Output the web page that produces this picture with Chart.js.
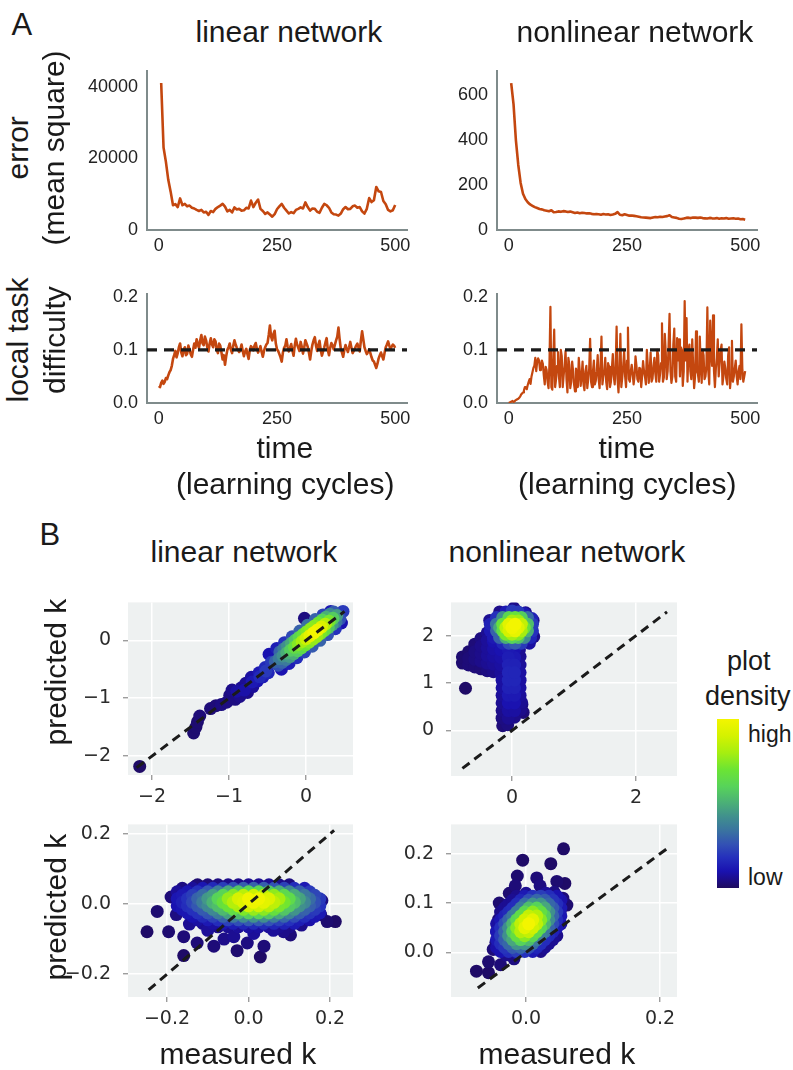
<!DOCTYPE html>
<html><head><meta charset="utf-8">
<script src="https://cdn.jsdelivr.net/npm/chart.js@4.4.1/dist/chart.umd.min.js"></script>
<style>
body{margin:0;background:#fff;width:793px;height:1070px;position:relative;overflow:hidden;font-family:"Liberation Sans",Arial,sans-serif;color:#1a1a1a}
canvas{position:absolute}
.t{position:absolute;white-space:nowrap;line-height:1}
</style></head><body>
<script>
// ================= DATA =================
// Panel A: learning curves (time in learning cycles)
const errStep = 5;            // error series sampled every 5 cycles, starting at cycle 5
const linearError = [41000,23000,19000,14000,10700,6900,7200,6400,8800,6900,
 7300,6600,6800,6200,6000,5600,5300,5600,4900,5100,
 4200,5300,5000,5900,6400,6800,7300,6500,5200,5600,
 4900,6300,5700,5900,5400,5500,6200,6000,8200,6400,
 7600,8500,5900,5300,4500,4900,4300,3700,4400,5800,
 6600,7300,6200,5400,4600,5000,4700,5600,5900,6300,
 6000,7700,6400,5400,6000,5900,5100,4800,6200,7300,
 6900,6200,4900,4400,4300,4000,4600,5800,6400,5800,
 5900,6600,6800,6200,6400,5200,4600,5900,8900,7800,
 8300,12000,10800,10600,8100,7200,5600,5200,5500,7000];
const nonlinearError = [655,560,400,290,210,162,138,124,114,108,
 102,98,94,92,88,86,84,88,79,80,
 83,81,84,83,80,82,79,76,78,75,
 77,76,74,75,72,70,71,70,68,71,
 69,70,67,69,72,80,68,66,70,67,
 64,65,63,61,59,57,56,55,54,53,
 56,58,57,59,58,60,62,66,58,56,
 54,50,49,51,54,55,53,56,55,54,
 56,53,52,51,54,52,51,53,50,52,
 51,53,50,51,52,50,51,48,49,46];
const linDiffStep = 2.5;      // starting at cycle 0
const linearDifficulty = [.032,.03,.038,.042,.036,.04,.047,.045,.052,.058,
 .062,.07,.083,.09,.098,.086,.094,.105,.112,.095,
 .088,.1,.105,.09,.093,.108,.101,.092,.087,.1,
 .112,.104,.12,.11,.104,.118,.128,.112,.109,.125,
 .118,.105,.097,.112,.122,.11,.105,.12,.116,.1,
 .094,.112,.108,.095,.082,.09,.072,.088,.1,.105,
 .112,.1,.094,.108,.118,.11,.104,.1,.096,.1,
 .11,.098,.088,.097,.102,.092,.083,.1,.107,.104,
 .099,.108,.113,.102,.095,.1,.107,.096,.087,.098,
 .105,.11,.113,.128,.146,.125,.118,.13,.136,.112,
 .101,.098,.092,.086,.078,.095,.104,.108,.12,.106,
 .097,.104,.111,.1,.089,.108,.121,.11,.104,.098,
 .115,.106,.093,.104,.118,.112,.106,.095,.082,.098,
 .11,.118,.124,.108,.098,.11,.117,.1,.089,.097,
 .105,.114,.122,.1,.09,.104,.113,.108,.101,.11,
 .118,.125,.142,.12,.102,.095,.087,.1,.109,.102,
 .096,.105,.115,.104,.094,.098,.103,.108,.112,.104,
 .097,.118,.135,.12,.105,.098,.092,.096,.101,.094,
 .086,.08,.078,.072,.066,.074,.084,.09,.095,.088,
 .082,.094,.105,.11,.116,.108,.102,.106,.11,.108,
 .104];
const nonDiffStep = 2;        // starting at cycle 0
const nonlinearDifficulty = [.0,.001,.002,.003,.004,.002,.003,.005,.006,.007,
 .008,.01,.012,.016,.018,.02,.024,.03,.03,.026,
 .034,.04,.045,.036,.05,.058,.066,.07,.085,.06,
 .078,.084,.08,.062,.07,.08,.074,.052,.035,.068,
 .062,.04,.028,.075,.181,.03,.025,.082,.138,.03,
 .045,.07,.096,.05,.03,.1,.088,.03,.052,.07,
 .098,.045,.02,.085,.072,.028,.04,.078,.06,.035,
 .022,.065,.055,.03,.085,.06,.032,.05,.078,.035,
 .024,.06,.07,.028,.045,.065,.121,.04,.03,.06,
 .08,.035,.042,.06,.09,.045,.028,.07,.125,.035,
 .05,.06,.085,.04,.026,.075,.068,.03,.04,.065,
 .092,.05,.035,.07,.144,.045,.02,.06,.13,.03,
 .048,.07,.098,.05,.03,.08,.142,.045,.04,.06,
 .072,.055,.035,.05,.088,.07,.045,.04,.066,.065,
 .03,.05,.079,.06,.05,.035,.1,.07,.038,.06,
 .095,.04,.046,.07,.085,.055,.04,.1,.09,.04,
 .055,.075,.15,.04,.048,.13,.095,.045,.06,.11,
 .168,.06,.038,.05,.11,.14,.05,.04,.122,.08,
 .12,.05,.105,.1,.032,.06,.192,.08,.16,.04,
 .098,.11,.06,.045,.12,.07,.028,.05,.135,.06,
 .055,.04,.125,.07,.038,.1,.09,.045,.05,.07,
 .18,.06,.035,.155,.095,.07,.165,.06,.03,.065,
 .085,.12,.05,.075,.1,.11,.035,.05,.078,.065,
 .045,.035,.09,.105,.028,.05,.117,.04,.05,.065,
 .08,.05,.035,.06,.07,.045,.148,.065,.04,.05,
 .06];
const targetDifficulty = 0.1;
const timeTicks = [0,250,500];
const linErrTicks = [0,20000,40000], linErrLabels = ['0','20000','40000'];
const nonErrTicks = [0,200,400,600], nonErrLabels = ['0','200','400','600'];
const diffTicks = [0,0.1,0.2], diffLabels = ['0.0','0.1','0.2'];

// Panel B: [measured k, predicted k, plot density 0..1]
const linTopPts = [[-2.16,-2.18,0.01],[-1.46,-1.6,0.02],[-1.43,-1.5,0.02],[-1.41,-1.41,0.02],[-1.38,-1.31,0.03],
 [-1.24,-1.18,0.03],[-1.17,-1.13,0.03],[-1.1,-1.11,0.04],[-1.03,-1.07,0.04],[-0.99,-0.95,0.04],[-0.96,-0.86,0.05],
 [-0.92,-1.02,0.04],[-0.86,-0.97,0.05],[-0.84,-0.82,0.06],[-0.78,-0.74,0.06],[-0.76,-0.9,0.05],[-0.71,-0.64,0.08],
 [-0.69,-0.8,0.07],[-0.63,-0.7,0.1],[-0.61,-0.56,0.12],[-0.56,-0.63,0.12],[-0.53,-0.47,0.16],[-0.49,-0.56,0.15],[-0.45,-0.38,0.2],
 [-0.9,-0.88,0.08],[-0.8,-0.86,0.09],[-0.7,-0.72,0.12],[-0.6,-0.63,0.16],[-0.52,-0.53,0.2],
 [-0.4,-0.37,0.3],[-0.3,-0.27,0.42],[-0.2,-0.17,0.58],[-0.1,-0.07,0.74],[0.0,0.03,0.88],[0.1,0.13,1.0],[0.2,0.23,0.92],[0.3,0.33,0.72],[0.4,0.43,0.45],[0.48,0.5,0.2],
 [-0.05,-0.02,0.8],[0.05,0.08,0.95],[0.15,0.18,0.98],[0.25,0.28,0.83],[-0.15,-0.12,0.66],[0.35,0.38,0.58],[-0.25,-0.22,0.5],[-0.35,-0.32,0.36],
 [-0.34,-0.2,0.3],[-0.24,-0.1,0.42],[-0.14,0.0,0.55],[-0.04,0.1,0.68],[0.06,0.2,0.76],[0.16,0.3,0.7],[0.26,0.4,0.5],[0.36,0.49,0.28],
 [-0.29,-0.15,0.36],[-0.19,-0.05,0.48],[-0.09,0.05,0.62],[0.01,0.15,0.73],[0.11,0.25,0.74],[0.21,0.35,0.6],[0.31,0.45,0.4],
 [-0.36,-0.43,0.25],[-0.26,-0.33,0.36],[-0.16,-0.23,0.5],[-0.06,-0.13,0.64],[0.04,-0.03,0.74],[0.14,0.07,0.78],[0.24,0.17,0.66],[0.34,0.27,0.45],[0.44,0.37,0.25],
 [-0.31,-0.38,0.3],[-0.21,-0.28,0.44],[-0.11,-0.18,0.58],[-0.01,-0.08,0.7],[0.09,0.02,0.77],[0.19,0.12,0.72],[0.29,0.22,0.56],[0.39,0.32,0.35],
 [-0.48,-0.24,0.1],[-0.38,-0.14,0.13],[-0.28,-0.04,0.18],[-0.18,0.06,0.24],[-0.08,0.16,0.3],[0.02,0.26,0.33],[0.12,0.36,0.3],[0.22,0.44,0.22],[0.32,0.5,0.12],[-0.02,0.38,0.04],
 [-0.32,-0.5,0.1],[-0.22,-0.4,0.13],[-0.12,-0.3,0.17],[-0.02,-0.2,0.22],[0.08,-0.1,0.28],[0.18,0.0,0.3],[0.28,0.1,0.26],[0.38,0.2,0.18],[0.46,0.3,0.1]];
const nonTopPts = [[-0.75,0.89,0.01],
 [-0.8,1.42,0.02],[-0.8,1.55,0.02],[-0.7,1.38,0.03],[-0.7,1.52,0.03],[-0.7,1.66,0.02],[-0.6,1.34,0.03],[-0.6,1.5,0.04],[-0.6,1.66,0.04],[-0.6,1.82,0.03],
 [-0.5,1.3,0.03],[-0.5,1.46,0.05],[-0.5,1.62,0.05],[-0.5,1.78,0.05],[-0.5,1.94,0.04],[-0.4,1.26,0.04],[-0.4,1.42,0.06],[-0.4,1.58,0.07],[-0.4,1.74,0.07],
 [-0.4,1.9,0.07],[-0.4,2.06,0.06],[-0.3,1.24,0.05],[-0.3,1.4,0.07],[-0.3,1.56,0.08],[-0.3,1.72,0.09],[-0.3,1.88,0.1],
 [-0.15,0.1,0.03],[-0.07,0.12,0.04],[-0.16,0.26,0.04],[-0.06,0.26,0.06],[0.04,0.28,0.05],
 [-0.16,0.42,0.05],[-0.06,0.42,0.08],[0.04,0.42,0.08],[0.14,0.44,0.05],[-0.16,0.58,0.06],[-0.06,0.58,0.1],[0.04,0.58,0.1],[0.15,0.6,0.06],
 [-0.16,0.74,0.07],[-0.06,0.74,0.12],[0.04,0.74,0.12],[0.13,0.74,0.07],[-0.16,0.9,0.08],[-0.06,0.9,0.14],[0.04,0.9,0.14],[0.13,0.9,0.08],
 [-0.16,1.06,0.08],[-0.06,1.06,0.15],[0.04,1.06,0.15],[0.13,1.06,0.08],[-0.18,1.22,0.07],[-0.06,1.22,0.15],[0.04,1.22,0.15],[0.13,1.22,0.08],
 [-0.18,1.38,0.08],[-0.06,1.38,0.14],[0.04,1.38,0.14],[0.13,1.38,0.07],[-0.18,1.54,0.09],[-0.06,1.54,0.13],[0.04,1.54,0.12],[0.13,1.56,0.06],
 [-0.18,1.7,0.1],[-0.06,1.7,0.12],[0.04,1.7,0.1],[0.12,1.7,0.06],[0.18,0.38,0.03],[0.16,0.55,0.04],
 [-0.1,2.5,0.12],[0.0,2.52,0.2],[0.1,2.5,0.2],[0.2,2.46,0.12],
 [-0.25,2.38,0.18],[-0.15,2.38,0.42],[-0.05,2.38,0.62],[0.05,2.38,0.68],[0.15,2.38,0.58],[0.25,2.38,0.32],[0.32,2.36,0.14],
 [-0.35,2.24,0.14],[-0.25,2.24,0.34],[-0.15,2.24,0.68],[-0.05,2.24,0.94],[0.05,2.24,1.0],[0.15,2.24,0.86],[0.25,2.24,0.54],[0.33,2.24,0.2],
 [-0.35,2.1,0.12],[-0.25,2.1,0.3],[-0.15,2.1,0.64],[-0.05,2.1,0.9],[0.05,2.1,0.96],[0.15,2.1,0.8],[0.25,2.1,0.5],[0.33,2.1,0.18],
 [-0.3,1.96,0.12],[-0.2,1.96,0.3],[-0.1,1.96,0.5],[0.0,1.96,0.6],[0.1,1.96,0.55],[0.2,1.96,0.4],[0.3,1.96,0.15],
 [-0.15,1.84,0.15],[-0.05,1.84,0.24],[0.05,1.84,0.28],[0.15,1.84,0.2],[0.28,1.84,0.08],
 [0.0,2.31,0.8],[0.1,2.31,0.78],[-0.1,2.17,0.84],[0.0,2.17,0.99],[0.1,2.17,0.93],[0.2,2.17,0.68],[-0.2,2.17,0.48],[0.0,2.03,0.8],[0.1,2.03,0.74],[-0.1,2.03,0.72],
 [0.03,2.58,0.05],[0.22,2.48,0.06],[0.34,2.32,0.05],[0.35,1.98,0.05],[-0.2,2.5,0.05],[-0.36,2.32,0.06]];
const linBotPts = [
 [-0.125,0.055,0.02],[-0.1,0.055,0.03],[-0.075,0.055,0.04],[-0.05,0.055,0.05],[-0.025,0.055,0.05],[0,0.055,0.06],[0.025,0.055,0.06],[0.05,0.055,0.06],[0.075,0.055,0.05],[0.1,0.055,0.04],
 [-0.1625,0.045,0.04],[-0.1375,0.045,0.07],[-0.1125,0.045,0.11],[-0.0875,0.045,0.16],[-0.0625,0.045,0.21],[-0.0375,0.045,0.25],[-0.0125,0.045,0.29],[0.0125,0.045,0.3],[0.0375,0.045,0.29],[0.0625,0.045,0.26],[0.0875,0.045,0.22],[0.1125,0.045,0.17],[0.1375,0.045,0.12],
 [-0.175,0.035,0.07],[-0.15,0.035,0.11],[-0.125,0.035,0.18],[-0.1,0.035,0.27],[-0.075,0.035,0.37],[-0.05,0.035,0.48],[-0.025,0.035,0.56],[0,0.035,0.61],[0.025,0.035,0.62],[0.05,0.035,0.57],[0.075,0.035,0.5],[0.1,0.035,0.4],[0.125,0.035,0.29],[0.15,0.035,0.2],
 [-0.1625,0.025,0.12],[-0.1375,0.025,0.21],[-0.1125,0.025,0.32],[-0.0875,0.025,0.46],[-0.0625,0.025,0.61],[-0.0375,0.025,0.74],[-0.0125,0.025,0.84],[0.0125,0.025,0.88],[0.0375,0.025,0.85],[0.0625,0.025,0.76],[0.0875,0.025,0.63],[0.1125,0.025,0.49],[0.1375,0.025,0.35],[0.1625,0.025,0.23],
 [-0.175,0.015,0.11],[-0.15,0.015,0.18],[-0.125,0.015,0.3],[-0.1,0.015,0.44],[-0.075,0.015,0.6],[-0.05,0.015,0.77],[-0.025,0.015,0.91],[0,0.015,0.99],[0.025,0.015,0.99],[0.05,0.015,0.93],[0.075,0.015,0.8],[0.1,0.015,0.64],[0.125,0.015,0.47],[0.15,0.015,0.32],[0.175,0.015,0.2],
 [-0.1625,0.005,0.14],[-0.1375,0.005,0.23],[-0.1125,0.005,0.36],[-0.0875,0.005,0.51],[-0.0625,0.005,0.67],[-0.0375,0.005,0.83],[-0.0125,0.005,0.93],[0.0125,0.005,0.98],[0.0375,0.005,0.95],[0.0625,0.005,0.85],[0.0875,0.005,0.71],[0.1125,0.005,0.54],[0.1375,0.005,0.39],[0.1625,0.005,0.25],
 [-0.175,-0.005,0.1],[-0.15,-0.005,0.17],[-0.125,-0.005,0.27],[-0.1,-0.005,0.4],[-0.075,-0.005,0.54],[-0.05,-0.005,0.69],[-0.025,-0.005,0.81],[0,-0.005,0.89],[0.025,-0.005,0.89],[0.05,-0.005,0.83],[0.075,-0.005,0.72],[0.1,-0.005,0.57],[0.125,-0.005,0.42],[0.15,-0.005,0.29],[0.175,-0.005,0.18],
 [-0.1625,-0.015,0.11],[-0.1375,-0.015,0.18],[-0.1125,-0.015,0.28],[-0.0875,-0.015,0.4],[-0.0625,-0.015,0.53],[-0.0375,-0.015,0.65],[-0.0125,-0.015,0.73],[0.0125,-0.015,0.77],[0.0375,-0.015,0.75],[0.0625,-0.015,0.67],[0.0875,-0.015,0.56],[0.1125,-0.015,0.43],[0.1375,-0.015,0.3],[0.1625,-0.015,0.2],
 [-0.15,-0.025,0.11],[-0.125,-0.025,0.18],[-0.1,-0.025,0.26],[-0.075,-0.025,0.36],[-0.05,-0.025,0.46],[-0.025,-0.025,0.54],[0,-0.025,0.59],[0.025,-0.025,0.6],[0.05,-0.025,0.56],[0.075,-0.025,0.48],[0.1,-0.025,0.38],[0.125,-0.025,0.28],[0.15,-0.025,0.19],[0.175,-0.025,0.12],
 [-0.1375,-0.035,0.1],[-0.1125,-0.035,0.16],[-0.0875,-0.035,0.22],[-0.0625,-0.035,0.3],[-0.0375,-0.035,0.36],[-0.0125,-0.035,0.41],[0.0125,-0.035,0.43],[0.0375,-0.035,0.42],[0.0625,-0.035,0.37],[0.0875,-0.035,0.31],[0.1125,-0.035,0.24],[0.1375,-0.035,0.17],[0.1625,-0.035,0.11],
 [-0.125,-0.045,0.08],[-0.1,-0.045,0.12],[-0.075,-0.045,0.17],[-0.05,-0.045,0.22],[-0.025,-0.045,0.25],[0,-0.045,0.28],[0.025,-0.045,0.28],[0.05,-0.045,0.26],[0.075,-0.045,0.22],[0.1,-0.045,0.18],[0.125,-0.045,0.13],[0.15,-0.045,0.09],
 [-0.1125,-0.055,0.06],[-0.0875,-0.055,0.08],[-0.0625,-0.055,0.11],[-0.0375,-0.055,0.13],[-0.0125,-0.055,0.15],[0.0125,-0.055,0.16],[0.0375,-0.055,0.16],[0.0625,-0.055,0.15],[0.0875,-0.055,0.14],[0.1125,-0.055,0.12],
 [-0.1,-0.065,0.04],[-0.075,-0.065,0.05],[-0.05,-0.065,0.06],[-0.025,-0.065,0.07],[0,-0.065,0.08],[0.025,-0.065,0.08],[0.05,-0.065,0.07],[0.075,-0.065,0.06],[0.1,-0.065,0.05],
 [-0.249,-0.079,0.01],[-0.224,-0.021,0.02],[-0.196,-0.079,0.02],[-0.159,-0.093,0.03],[-0.159,-0.147,0.01],[-0.126,-0.111,0.03],[-0.085,-0.12,0.03],[-0.028,-0.133,0.02],
 [0.029,-0.151,0.01],[0.038,-0.12,0.03],[0.103,-0.088,0.03],[0.086,-0.079,0.05],[0.16,-0.021,0.05],[0.193,-0.05,0.02],[0.213,-0.05,0.01],[0.177,-0.03,0.03],
 [0.152,0.015,0.08],[-0.13,0.051,0.03],[-0.16,0.006,0.05],[-0.177,-0.03,0.04],[-0.145,-0.057,0.06],[-0.1,-0.075,0.07],[-0.036,-0.093,0.06],[0.013,-0.084,0.07],
 [0.061,-0.075,0.07],[-0.003,-0.111,0.04],[-0.19,0.02,0.03],[0.18,0.01,0.04],[-0.06,-0.1,0.05],[0.13,-0.06,0.05]];
const nonBotPts = [
 [-0.038,0.002,0.1],[-0.026,0.002,0.17],[-0.014,0.002,0.21],[-0.002,0.002,0.18],[0.01,0.002,0.12],[0.022,0.002,0.05],
 [-0.044,0.01,0.09],[-0.032,0.01,0.19],[-0.02,0.01,0.28],[-0.008,0.01,0.31],[0.004,0.01,0.25],[0.016,0.01,0.15],[0.028,0.01,0.06],
 [-0.038,0.018,0.17],[-0.026,0.018,0.31],[-0.014,0.018,0.43],[-0.002,0.018,0.43],[0.01,0.018,0.32],[0.022,0.018,0.17],[0.034,0.018,0.06],
 [-0.044,0.026,0.12],[-0.032,0.026,0.28],[-0.02,0.026,0.48],[-0.008,0.026,0.6],[0.004,0.026,0.54],[0.016,0.026,0.36],[0.028,0.026,0.17],[0.04,0.026,0.06],
 [-0.038,0.034,0.2],[-0.026,0.034,0.42],[-0.014,0.034,0.66],[-0.002,0.034,0.75],[0.01,0.034,0.62],[0.022,0.034,0.37],[0.034,0.034,0.16],[0.046,0.034,0.05],
 [-0.044,0.042,0.11],[-0.032,0.042,0.3],[-0.02,0.042,0.58],[-0.008,0.042,0.83],[0.004,0.042,0.86],[0.016,0.042,0.65],[0.028,0.042,0.35],[0.04,0.042,0.14],
 [-0.038,0.05,0.17],[-0.026,0.05,0.41],[-0.014,0.05,0.74],[-0.002,0.05,0.95],[0.01,0.05,0.89],[0.022,0.05,0.61],[0.034,0.05,0.3],[0.046,0.05,0.11],
 [-0.044,0.058,0.08],[-0.032,0.058,0.24],[-0.02,0.058,0.52],[-0.008,0.058,0.85],[0.004,0.058,1.0],[0.016,0.058,0.85],[0.028,0.058,0.52],[0.04,0.058,0.24],[0.052,0.058,0.08],
 [-0.038,0.066,0.11],[-0.026,0.066,0.3],[-0.014,0.066,0.61],[-0.002,0.066,0.89],[0.01,0.066,0.95],[0.022,0.066,0.74],[0.034,0.066,0.41],[0.046,0.066,0.17],
 [-0.032,0.074,0.14],[-0.02,0.074,0.35],[-0.008,0.074,0.65],[0.004,0.074,0.86],[0.016,0.074,0.83],[0.028,0.074,0.58],[0.04,0.074,0.3],[0.052,0.074,0.11],
 [-0.038,0.082,0.05],[-0.026,0.082,0.16],[-0.014,0.082,0.37],[-0.002,0.082,0.62],[0.01,0.082,0.75],[0.022,0.082,0.66],[0.034,0.082,0.42],[0.046,0.082,0.2],
 [-0.032,0.09,0.06],[-0.02,0.09,0.17],[-0.008,0.09,0.36],[0.004,0.09,0.54],[0.016,0.09,0.6],[0.028,0.09,0.48],[0.04,0.09,0.28],[0.052,0.09,0.12],
 [-0.026,0.098,0.06],[-0.014,0.098,0.17],[-0.002,0.098,0.32],[0.01,0.098,0.43],[0.022,0.098,0.43],[0.034,0.098,0.31],[0.046,0.098,0.17],
 [-0.02,0.106,0.06],[-0.008,0.106,0.15],[0.004,0.106,0.25],[0.016,0.106,0.31],[0.028,0.106,0.28],[0.04,0.106,0.19],[0.052,0.106,0.09],
 [-0.014,0.114,0.05],[-0.002,0.114,0.12],[0.01,0.114,0.18],[0.022,0.114,0.21],[0.034,0.114,0.17],[0.046,0.114,0.1],
 [0.056,0.21,0.01],[-0.005,0.187,0.01],[0.037,0.18,0.01],[-0.013,0.155,0.02],[0.016,0.151,0.03],[-0.016,0.135,0.03],[0.021,0.135,0.04],
 [0.046,0.144,0.02],[0.058,0.14,0.01],[0.042,0.122,0.04],[0.061,0.096,0.02],[0.051,0.083,0.05],[-0.029,0.096,0.03],[-0.041,0.067,0.03],
 [-0.044,0.042,0.04],[-0.049,0.006,0.03],[-0.056,-0.019,0.02],[-0.074,-0.038,0.01],[-0.056,-0.041,0.01],[-0.038,-0.025,0.03],[-0.018,-0.013,0.04],
 [0.001,0.006,0.06],[0.031,0.038,0.06],[0.05,0.06,0.06],[0.055,0.11,0.03],[-0.04,0.1,0.02],[-0.025,0.12,0.02],[0.0,0.12,0.06],[0.03,0.12,0.07],
 [-0.045,0.02,0.04],[-0.03,-0.005,0.05],[-0.015,0.0,0.08],[0.015,0.015,0.06]];
const linTopX = [-2,-1,0], linTopXL = ['\u22122','\u22121','0'];
const linTopY = [-2,-1,0], linTopYL = ['\u22122','\u22121','0'];
const nonTopX = [0,2], nonTopXL = ['0','2'];
const nonTopY = [0,1,2], nonTopYL = ['0','1','2'];
const linBotX = [-0.2,0,0.2], linBotXL = ['\u22120.2','0.0','0.2'];
const linBotY = [-0.2,0,0.2], linBotYL = ['\u22120.2','0.0','0.2'];
const nonBotX = [0,0.2], nonBotXL = ['0.0','0.2'];
const nonBotY = [0,0.1,0.2], nonBotYL = ['0.0','0.1','0.2'];
// identity (y = x) reference segments [start, end]
const linTopDiag = [-2.2,0.5], nonTopDiag = [-0.8,2.5], linBotDiag = [-0.245,0.21], nonBotDiag = [-0.072,0.21];

// ================= STYLE / HELPERS =================
const stops = [[0,'#1f0b5e'],[0.05,'#1d0d8a'],[0.1,'#1a12b0'],[0.18,'#2530bc'],[0.26,'#3352b4'],[0.34,'#3a73a0'],[0.42,'#408f8e'],[0.5,'#4aae78'],[0.6,'#57d35a'],[0.7,'#6be434'],[0.8,'#a6ee10'],[0.9,'#d4f200'],[1,'#f3f500']];
function hex(c){return [parseInt(c.slice(1,3),16),parseInt(c.slice(3,5),16),parseInt(c.slice(5,7),16)];}
function densityColor(d){d=Math.max(0,Math.min(1,d));for(let i=1;i<stops.length;i++){if(d<=stops[i][0]){const p0=stops[i-1][0],p1=stops[i][0];const a=hex(stops[i-1][1]),b=hex(stops[i][1]);const f=(d-p0)/(p1-p0);return 'rgb('+a.map((v,k)=>Math.round(v+(b[k]-v)*f)).join(',')+')';}}return stops[stops.length-1][1];}

function txt(s,x,y,size,opts){opts=opts||{};const d=document.createElement('div');d.className='t';d.textContent=s;d.style.fontSize=size+'px';document.body.appendChild(d);const w=d.offsetWidth;
 if(opts.rotate){d.style.left='0px';d.style.top='0px';d.style.transformOrigin='0 0';d.style.transform='translate('+x+'px,'+y+'px) rotate(-90deg) translate('+(-w/2)+'px,'+(-0.8465*size)+'px)';}
 else{const ax=opts.left?0:w/2;d.style.left=(x-ax)+'px';d.style.top=(y-0.8465*size)+'px';}}

function mkCanvas(area,m){const c=document.createElement('canvas');const w=area[2]-area[0]+m[0]+m[2],h=area[3]-area[1]+m[1]+m[3];c.width=w;c.height=h;
 Object.assign(c.style,{left:(area[0]-m[0])+'px',top:(area[1]-m[1])+'px',width:w+'px',height:h+'px'});document.body.appendChild(c);return c;}

const A_M=[100,16,22,40];
const fontA={family:"'Liberation Sans', Arial, sans-serif",size:18};
function timeChart(area,series,step,start,yMin,yMax,yTicks,yLabels,lw,refY){
 const c=mkCanvas(area,A_M);const ds=[];
 if(refY!==undefined)ds.push({data:[{x:-25,y:refY},{x:525,y:refY}],borderColor:'#1b1b1b',borderWidth:3.2,borderDash:[10,7],pointRadius:0});
 ds.push({data:series.map((v,i)=>({x:start+i*step,y:v})),borderColor:'#c4470f',borderWidth:lw,pointRadius:0,borderJoinStyle:'round'});
 new Chart(c,{type:'line',data:{datasets:ds},options:{responsive:false,animation:false,devicePixelRatio:1,events:[],
  layout:{padding:{left:0,top:A_M[1],right:A_M[2],bottom:0}},
  plugins:{legend:{display:false},tooltip:{enabled:false}},
  scales:{
   x:{type:'linear',min:-25,max:525,afterBuildTicks:s=>{s.ticks=timeTicks.map(v=>({value:v}));},afterFit:s=>{s.height=A_M[3];},
      ticks:{font:fontA,color:'#222',padding:5,maxRotation:0,autoSkip:false,callback:v=>String(v)},
      grid:{display:false,drawTicks:false},border:{display:true,color:'#7f8b8b',width:2}},
   y:{type:'linear',min:yMin,max:yMax,afterBuildTicks:s=>{s.ticks=yTicks.map(v=>({value:v}));},afterFit:s=>{s.width=A_M[0];},
      ticks:{font:fontA,color:'#222',padding:9,autoSkip:false,callback:(v,i)=>yLabels[i]},
      grid:{display:false,drawTicks:false},border:{display:true,color:'#7f8b8b',width:2}}
  }}});
}

const B_M=[70,14,14,50];
const fontB={family:"'DejaVu Sans', sans-serif",size:19};
const bgPlugin={id:'plotBg',beforeDraw(ch){const a=ch.chartArea,x=ch.ctx;x.save();x.fillStyle='#eef1f1';x.fillRect(a.left,a.top,a.right-a.left,a.bottom-a.top);x.restore();}};
function scatterChart(area,pts,xr,yr,xT,xL,yT,yL,diag){
 const c=mkCanvas(area,B_M);
 const sorted=pts.slice().sort((a,b)=>a[2]-b[2]);
 const cols=sorted.map(p=>densityColor(p[2]));
 const gridB={color:'#ffffff',lineWidth:1.5,tickColor:'#8c8c8c',tickLength:5,tickWidth:1.2};
 new Chart(c,{type:'scatter',data:{datasets:[
   {type:'line',data:[{x:diag[0],y:diag[0]},{x:diag[1],y:diag[1]}],borderColor:'#1b1b1b',borderWidth:3,borderDash:[9,6],pointRadius:0,showLine:true},
   {type:'scatter',data:sorted.map(p=>({x:p[0],y:p[1]})),pointRadius:6.5,pointHoverRadius:6.5,pointBorderWidth:0,borderWidth:0,
    pointBackgroundColor:ctx=>cols[ctx.dataIndex],backgroundColor:ctx=>cols[ctx.dataIndex]}
  ]},options:{responsive:false,animation:false,devicePixelRatio:1,events:[],
  layout:{padding:{left:0,top:B_M[1],right:B_M[2],bottom:0}},
  plugins:{legend:{display:false},tooltip:{enabled:false}},
  scales:{
   x:{type:'linear',min:xr[0],max:xr[1],afterBuildTicks:s=>{s.ticks=xT.map(v=>({value:v}));},afterFit:s=>{s.height=B_M[3];},
      ticks:{font:fontB,color:'#2b2b2b',padding:6,maxRotation:0,autoSkip:false,callback:(v,i)=>xL[i]},grid:gridB,border:{display:false}},
   y:{type:'linear',min:yr[0],max:yr[1],afterBuildTicks:s=>{s.ticks=yT.map(v=>({value:v}));},afterFit:s=>{s.width=B_M[0];},
      ticks:{font:fontB,color:'#2b2b2b',padding:12,autoSkip:false,callback:(v,i)=>yL[i]},grid:gridB,border:{display:false}}
  }},plugins:[bgPlugin]});
}

// ================= BUILD =================
timeChart([147,67,407,230],linearError,errStep,errStep,0,44400,linErrTicks,linErrLabels,2.6);
timeChart([497,67,757,230],nonlinearError,errStep,errStep,0,710,nonErrTicks,nonErrLabels,2.6);
timeChart([147,290,407,403],linearDifficulty,linDiffStep,0,0,0.2056,diffTicks,diffLabels,2.6,targetDifficulty);
timeChart([497,290,757,403],nonlinearDifficulty,nonDiffStep,0,0,0.2056,diffTicks,diffLabels,2.2,targetDifficulty);

scatterChart([128,593,353,775],linTopPts,[-2.312,0.61],[-2.328,0.656],linTopX,linTopXL,linTopY,linTopYL,linTopDiag);
scatterChart([451,593,677,776],nonTopPts,[-0.984,2.661],[-0.96,2.7],nonTopX,nonTopXL,nonTopY,nonTopYL,nonTopDiag);
scatterChart([128,815,353,997],linBotPts,[-0.2957,0.2564],[-0.265,0.227],linBotX,linBotXL,linBotY,linBotYL,linBotDiag);
scatterChart([451,815,677,997],nonBotPts,[-0.112,0.2254],[-0.0904,0.2596],nonBotX,nonBotXL,nonBotY,nonBotYL,nonBotDiag);

// text
txt('A',22,35,31);
txt('B',50,545,31);
txt('linear network',289,42,30);
txt('nonlinear network',635,42,30);
txt('error',28,148,30,{rotate:true});
txt('(mean square)',64,148,30,{rotate:true});
txt('local task',28,340,30,{rotate:true});
txt('difficulty',65,340,30,{rotate:true});
txt('time',285,458,30);
txt('(learning cycles)',285,494,30);
txt('time',627,458,30);
txt('(learning cycles)',627,494,30);
txt('linear network',244,562,30);
txt('nonlinear network',567,562,30);
txt('predicted k',66,672,30,{rotate:true});
txt('predicted k',66,907,30,{rotate:true});
txt('measured k',238,1064,30);
txt('measured k',557,1064,30);
txt('plot',749,671,27);
txt('density',748,706,27);
txt('high',748,742,23,{left:true});
txt('low',748,885,23,{left:true});
// colour bar
const cb=document.createElement('div');
Object.assign(cb.style,{position:'absolute',left:'717px',top:'719px',width:'22px',height:'169px',
 background:'linear-gradient(to top,'+stops.map(s=>s[1]+' '+(s[0]*100)+'%').join(',')+')'});
document.body.appendChild(cb);
</script>
</body></html>
